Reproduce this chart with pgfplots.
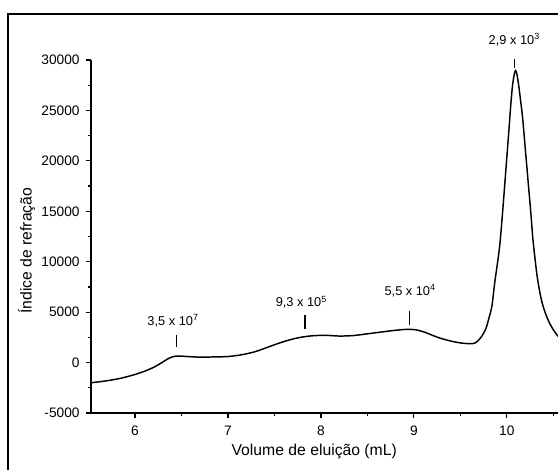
\documentclass[border=0pt]{standalone}
\usepackage{pgfplots}
\pgfplotsset{compat=1.18}
\usepackage{fontspec}
\setmainfont{Liberation Sans}

\begin{document}
\begin{tikzpicture}
\begin{axis}[
  name=main,
  scale only axis,
  width=350.25pt, height=264.75pt,
  xmin=5.527, xmax=10.55,
  ymin=-5000, ymax=30000,
  axis x line*=bottom, axis y line*=left,
  axis line style={line width=1.1pt, -},
  xtick={6,7,8,9,10},
  minor xtick={5.5,6.5,7.5,8.5,9.5,10.5},
  ytick={-5000,0,5000,10000,15000,20000,25000,30000},
  minor ytick={-2500,2500,7500,12500,17500,22500,27500},
  tick align=outside,
  major tick length=4pt, minor tick length=2.5pt,
  every tick/.style={line width=0.9pt, black},
  scaled y ticks=false,
  /pgf/number format/assume math mode=true,
  /pgf/number format/set thousands separator={},
  tick label style={font=\fontsize{10.3}{12}\selectfont},
  xticklabel style={yshift=-2pt},
  yticklabel style={xshift=-1pt},
  xlabel={Volume de eluição (mL)},
  ylabel={Índice de refração},
  label style={font=\fontsize{11.8}{13}\selectfont},
  xlabel style={at={(axis description cs:0.478,0)}, anchor=center, yshift=-29pt},
  ylabel style={at={(axis description cs:-0.138,0.46)}, anchor=center},
  clip=false,
]
\addplot[black, line width=1.1pt, smooth] coordinates {
  (5.53,-2000) (5.70,-1800) (5.85,-1550) (6.00,-1180) (6.12,-800)
  (6.22,-380) (6.30,60) (6.36,400) (6.42,610) (6.48,650)
  (6.56,600) (6.70,540) (6.85,560) (7.00,600) (7.15,780)
  (7.30,1100) (7.45,1600) (7.60,2080) (7.75,2450) (7.90,2650)
  (8.05,2700) (8.20,2630) (8.35,2680) (8.50,2850) (8.65,3030)
  (8.80,3200) (8.92,3290) (9.02,3250) (9.12,3000) (9.20,2700)
  (9.28,2430) (9.39,2150) (9.50,1950) (9.60,1870) (9.66,1950)
  (9.71,2370) (9.75,2900) (9.78,3520) (9.81,4500) (9.84,5650)
  (9.87,7960) (9.91,10590) (9.93,12240) (9.96,15600) (9.99,19200)
  (10.02,22800) (10.04,25300) (10.06,27400) (10.08,28600) (10.095,28950)
  (10.11,28500) (10.13,27300) (10.15,25800) (10.17,24200) (10.20,21000)
  (10.23,17800) (10.26,14600) (10.28,12240) (10.32,8950) (10.35,7200)
  (10.38,5900) (10.42,4750) (10.46,3900) (10.50,3250) (10.55,2600)
};
% peak annotations: molar mass estimates
\begin{scope}[every node/.style={font=\fontsize{9.6}{11}\selectfont, inner sep=0pt}]
  \node at (axis cs:6.41,4170) {3,5 x 10\textsuperscript{7}};
  \draw[line width=1pt] (axis cs:6.45,2760) -- (axis cs:6.45,1580);
  \node at (axis cs:7.79,5990) {9,3 x 10\textsuperscript{5}};
  \draw[line width=1pt] (axis cs:7.83,4670) -- (axis cs:7.83,3360);
  \node at (axis cs:8.96,7140) {5,5 x 10\textsuperscript{4}};
  \draw[line width=1pt] (axis cs:8.95,5160) -- (axis cs:8.95,3680);
  \node at (axis cs:10.08,32040) {2,9 x 10\textsuperscript{3}};
  \draw[line width=1pt] (axis cs:10.08,30060) -- (axis cs:10.08,29180);
\end{scope}
\end{axis}
% outer figure frame
\draw[line width=1.5pt] ([shift={(-62.25pt,-60pt)}]main.south west)
  -- ([shift={(-62.25pt,299.25pt)}]main.south west)
  -- ([shift={(380pt,299.25pt)}]main.south west);
\pgfresetboundingbox
\path[use as bounding box] ([shift={(-68.25pt,-42pt)}]main.south west)
  rectangle ([shift={(350.25pt,309.75pt)}]main.south west);
\end{tikzpicture}
\end{document}
